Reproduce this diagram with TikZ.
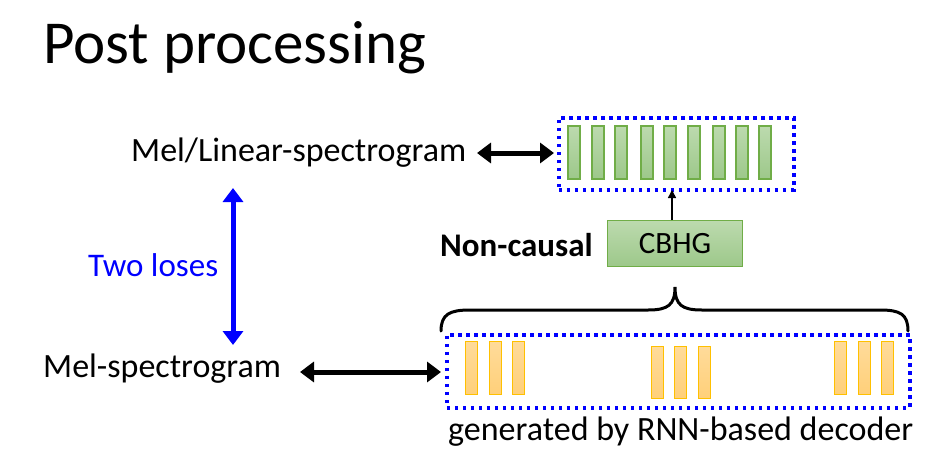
\documentclass[tikz,border=0pt]{standalone}
\usepackage{fontspec}
\setmainfont{Carlito}
\usetikzlibrary{arrows.meta}
\definecolor{gbord}{HTML}{70AD47}
\definecolor{gtop}{HTML}{BCDAAE}
\definecolor{gbot}{HTML}{9DC88A}
\definecolor{obord}{HTML}{FFC000}
\definecolor{otop}{HTML}{FFDB9A}
\definecolor{obot}{HTML}{FFD07A}
\definecolor{dblue}{HTML}{0000FF}
\tikzset{
  txt/.style={inner sep=0pt, font=\fontsize{34}{40}\selectfont},
  dotbox/.style={draw=dblue, line width=3.5pt, dash pattern=on 3.5pt off 4.5pt},
  gbar/.style={draw=gbord, line width=1.2pt, top color=gtop, bottom color=gbot},
  obar/.style={draw=obord, line width=1pt, top color=otop, bottom color=obot},
  dbl/.style={line width=5pt, {Triangle[length=14pt,width=20pt]}-{Triangle[length=14pt,width=20pt]}},
}
\begin{document}
\begin{tikzpicture}[x=1pt,y=-1pt]
\useasboundingbox (0,0) rectangle (935,456);
% title
\node[inner sep=0pt, anchor=west, font=\fontsize{61}{70}\selectfont] (title) at (43,48) {Post processing};
% left labels
\node[txt, anchor=west] (lin) at (131,153) {Mel/Linear-spectrogram};
\node[txt, anchor=west] (mel) at (43,369) {Mel-spectrogram};
\node[txt, anchor=west, text=dblue, font=\fontsize{33}{40}\selectfont] (two) at (88,265) {Two loses};
\node[txt, anchor=west, font=\fontsize{33}{40}\selectfont\bfseries] (nc) at (440,245) {Non-causal};
\node[txt, anchor=west] (gen) at (448,432) {generated by RNN-based decoder};
% top dotted box
\node[dotbox, minimum width=235pt, minimum height=72pt, anchor=north west, inner sep=0pt] (topbox) at (557,116) {};
\foreach \x in {568,592,615,641,664,688,713,736,759}{
  \path[gbar] (\x,126) rectangle ++(12,53);
}
% bottom dotted box
\node[dotbox, minimum width=463pt, minimum height=73pt, anchor=north west, inner sep=0pt] (botbox) at (445,333) {};
\foreach \x in {465,489,512,834,858,881}{
  \path[obar] (\x,341) rectangle ++(12,53);
}
\foreach \x in {651,674,698}{
  \path[obar] (\x,346) rectangle ++(12,52);
}
% CBHG
\node[draw=gbord, line width=1.2pt, top color=gtop, bottom color=gbot, minimum width=135pt, minimum height=46pt, anchor=north west, inner sep=0pt] (cbhg) at (607,220) {};
\node[txt, font=\fontsize{31}{36}\selectfont] (cbhgt) at (cbhg.center) {CBHG};
% brace
\coordinate (bl) at (441,331);
\coordinate (br) at (908,331);
\coordinate (bt) at (675,287);
\draw[line width=3pt, line cap=round] (bl) .. controls (441,314) and (450,310) .. (470,310) -- (648,310) .. controls (668,310) and (675,305) .. (bt) .. controls (675,305) and (682,310) .. (702,310) -- (880,310) .. controls (900,310) and (908,314) .. (br);
% arrows
\coordinate (a1) at (477,153);
\coordinate (a2) at (554,153);
\draw[dbl] (a1) -- (a2);
\coordinate (b1) at (300,372);
\coordinate (b2) at (441,372);
\draw[dbl] (b1) -- (b2);
\coordinate (c1) at (233,188);
\coordinate (c2) at (233,345);
\draw[dbl, draw=dblue, fill=dblue] (c1) -- (c2);
\draw[line width=1.5pt, -{Triangle[length=8pt,width=8pt]}] (cbhg.north -| 672,0) -- (672,190);
\end{tikzpicture}
\end{document}
